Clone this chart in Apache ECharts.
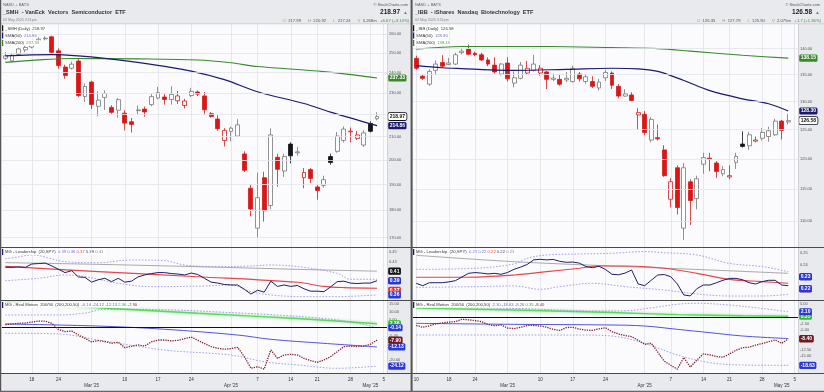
<!DOCTYPE html>
<html><head><meta charset="utf-8">
<script src="https://cdn.jsdelivr.net/npm/echarts@6/dist/echarts.min.js"></script>
<style>html,body{margin:0;padding:0;background:#e8eaed}#c{width:824px;height:392px}</style>
</head><body><div id="c"></div>
<script>
// ================= DATA =================
const tradingDays = ['Feb 10','Feb 11','Feb 12','Feb 13','Feb 14','Feb 18','Feb 19','Feb 20','Feb 21','Feb 24','Feb 25','Feb 26','Feb 27','Feb 28',
'Mar 3','Mar 4','Mar 5','Mar 6','Mar 7','Mar 10','Mar 11','Mar 12','Mar 13','Mar 14','Mar 17','Mar 18','Mar 19','Mar 20','Mar 21','Mar 24','Mar 25','Mar 26','Mar 27','Mar 28','Mar 31',
'Apr 1','Apr 2','Apr 3','Apr 4','Apr 7','Apr 8','Apr 9','Apr 10','Apr 11','Apr 14','Apr 15','Apr 16','Apr 17','Apr 21','Apr 22','Apr 23','Apr 24','Apr 25','Apr 28','Apr 29','Apr 30',
'May 1','May 2','May 5'];
const smhCategories = tradingDays.slice(1);
const ibbCategories = tradingDays;
const weekTickLabels = [['Feb 10','10'],['Feb 18','18'],['Feb 24','24'],['Mar 3',"Mar '25"],['Mar 10','10'],['Mar 17','17'],['Mar 24','24'],['Apr 1',"Apr '25"],['Apr 7','7'],['Apr 14','14'],['Apr 21','21'],['Apr 28','28'],['May 1',"May '25"],['May 5','5']];
const monthTickDays = ['Mar 3','Apr 1','May 1'];

// candles: [open, close, low, high]
const smhCandles = [
[247.3,248.6,246.5,250.5],[246.0,248.9,245.2,249.8],[249.3,252.2,248.5,252.8],[251.7,253.0,250.5,254.3],[253.2,255.6,252.5,256.5],
[256.8,257.4,256.0,258.5],[257.6,257.9,256.8,259.0],[258.7,250.4,249.9,259.2],[251.2,243.6,242.0,252.5],[242.8,238.6,237.0,244.0],
[242.2,244.3,241.6,245.6],[245.9,228.8,228.0,247.0],[228.3,233.2,225.7,234.6],[235.3,224.5,222.4,236.0],[223.7,226.6,219.1,230.8],
[227.9,229.8,222.0,231.3],[223.2,220.9,220.2,224.2],[221.9,226.8,218.4,227.6],[220.5,216.0,212.7,221.9],[216.6,215.4,211.8,218.3],
[221.7,222.0,219.9,224.0],[222.4,221.1,218.9,223.6],[224.5,228.3,223.8,229.5],[227.6,230.2,227.0,233.0],[228.1,226.9,224.5,229.5],
[226.9,229.3,224.5,233.3],[226.3,228.6,224.8,231.0],[224.1,226.2,222.7,227.2],[228.8,230.8,228.0,232.5],[230.5,229.5,228.5,231.2],
[228.6,222.1,219.8,230.5],[220.3,219.0,218.5,221.0],[217.8,213.5,212.6,219.5],[208.3,212.7,205.7,213.7],[212.3,213.7,207.9,214.4],
[210.2,215.2,209.8,217.8],[202.5,195.7,195.0,203.6],[188.5,180.5,177.7,190.0],[173.4,184.8,169.8,194.7],[192.7,179.8,175.8,195.1],
[181.8,210.7,180.4,213.6],[201.1,196.1,189.1,202.5],[195.4,201.4,193.0,202.6],[206.7,201.7,198.5,207.5],[203.0,203.4,201.7,205.5],
[192.7,194.8,188.5,196.6],[196.0,192.4,190.5,196.6],[189.0,187.6,184.0,189.8],[189.6,191.9,188.7,193.5],[201.4,198.9,198.0,202.6],
[203.6,210.2,203.0,212.0],[208.3,213.3,207.4,214.5],[212.1,212.4,207.5,214.0],[209.2,210.7,208.5,212.4],[206.3,211.6,205.5,212.8],
[215.8,212.3,211.8,216.8],[217.99,218.97,217.24,220.92]];
const ibbCandles = [
[138.1,136.2,135.9,138.6],[134.7,134.3,134.0,135.0],[133.2,135.6,132.9,136.0],[135.8,137.0,135.0,137.7],[137.3,136.6,136.3,138.7],
[136.9,137.2,136.8,138.2],[137.0,138.8,136.8,139.2],[139.2,139.5,138.9,140.0],[139.9,138.9,138.7,140.8],[139.1,138.8,138.5,139.4],
[138.8,137.8,137.6,139.2],[137.8,137.0,136.6,138.3],[136.8,135.5,135.2,138.3],[135.1,137.0,134.8,137.2],[137.2,134.2,133.7,138.3],
[133.4,134.4,132.6,135.6],[134.3,136.8,134.1,137.4],[135.3,136.2,135.0,137.6],[135.8,137.0,135.6,138.8],[135.3,136.2,134.8,136.8],
[135.5,134.1,132.3,135.7],[134.1,134.35,133.8,135.2],[134.1,133.2,132.9,135.0],[134.0,134.3,133.6,135.5],[133.7,136.2,133.5,136.7],
[135.1,134.2,133.7,135.5],[133.7,134.6,133.3,135.0],[133.7,132.8,132.5,134.7],[132.5,133.6,132.0,134.2],[134.4,135.4,133.8,135.9],
[135.3,133.0,132.3,135.6],[132.8,131.0,130.6,133.2],[131.0,131.4,130.9,132.3],[131.2,130.2,129.9,131.7],[127.6,128.0,125.0,128.8],
[127.7,124.5,124.0,128.3],[123.2,126.8,122.8,127.2],[123.6,123.4,123.1,125.9],[121.5,117.2,117.0,122.3],[113.4,116.2,112.1,116.8],
[118.5,112.1,111.0,118.9],[108.9,118.5,107.1,119.3],[116.2,113.2,109.4,116.6],[113.5,116.7,111.8,117.2],[119.1,120.2,117.5,121.0],
[120.1,119.9,117.9,121.0],[119.3,117.9,116.8,119.6],[117.5,118.2,117.1,118.8],[117.0,117.2,116.6,118.9],[119.4,120.4,118.3,121.0],
[122.5,122.1,121.9,124.7],[122.2,124.1,121.5,124.6],[123.0,123.2,122.8,123.8],[123.5,124.5,123.1,125.3],[123.8,124.8,122.9,125.5],
[124.1,126.5,123.9,126.9],[126.5,124.88,123.3,126.7],[126.35,126.58,125.90,127.78]];

// moving averages read at points: [dayIndex, value]
const smhSma50 = [[0,248.6],[7,249.2],[11,248.6],[15,247.3],[22,244.2],[28,240.8],[33,236.5],[38,230.6],[45,225.0],[49,221.0],[56,214.86]];
const smhSma200 = [[0,245.2],[5,246.5],[10,247.2],[20,247.0],[29,246.4],[34,245.0],[38,243.1],[48,240.5],[56,237.33]];
const ibbSma50 = [[0,136.7],[4,136.3],[15,135.8],[23,136.0],[30,136.2],[34,136.1],[37,135.6],[41,133.9],[45,132.0],[50,130.5],[54,129.6],[57,128.30]];
const ibbSma200 = [[0,139.9],[7,140.4],[20,140.4],[30,140.2],[37,140.0],[42,139.5],[50,138.7],[57,138.15]];

// MG Leadership (20,SPY)
const smhLeadMain = [0.418,0.418,0.419,0.418,0.425,0.426,0.427,0.421,0.414,0.407,0.411,0.398,0.397,0.387,0.392,0.395,0.388,0.395,0.387,0.389,
0.398,0.402,0.405,0.407,0.407,0.405,0.404,0.402,0.406,0.403,0.395,0.387,0.385,0.382,0.381,0.381,0.372,0.362,0.370,0.366,
0.389,0.378,0.381,0.378,0.380,0.373,0.368,0.368,0.367,0.377,0.388,0.389,0.385,0.384,0.385,0.385,0.390];
const smhLeadUpper = [[0,0.436],[2,0.440],[4,0.444],[9,0.430],[14,0.4278],[19,0.4334],[24,0.432],[27,0.4229],[32,0.4194],[37,0.4208],[40,0.4229],[45,0.418],[50,0.4054],[52,0.3929],[56,0.3929]];
const smhLeadLower = [[0,0.390],[5,0.395],[9,0.402],[12,0.3984],[17,0.3845],[22,0.3775],[30,0.3789],[34,0.381],[37,0.367],[40,0.360],[45,0.3565],[50,0.3565],[56,0.3602]];
const smhLeadRed = [[0,0.420],[14,0.409],[29,0.3984],[44,0.3866],[48,0.378],[51,0.3755],[56,0.3742]];
const smhLeadGray = [[0,0.4278],[14,0.4243],[33,0.418],[44,0.4138],[56,0.410]];
const ibbLeadMain = [0.2245,0.2225,0.2250,0.2250,0.2250,0.2257,0.2267,0.2298,0.2328,0.2334,0.2330,0.2323,0.2328,0.2320,0.2335,0.2362,0.2380,0.2402,0.2440,0.2445,
0.2440,0.2444,0.2428,0.2420,0.2422,0.2413,0.2385,0.2375,0.2387,0.2360,0.2320,0.2316,0.2330,0.2356,0.2240,0.2225,0.2270,0.2314,0.2318,0.2300,
0.2240,0.2148,0.2140,0.2200,0.2231,0.2231,0.2250,0.2270,0.2286,0.2286,0.2275,0.2250,0.2239,0.2259,0.2270,0.2270,0.2231,0.2225];
const ibbLeadUpper = [[0,0.2361],[9,0.237],[15,0.2406],[17,0.2453],[20,0.2481],[25,0.2489],[30,0.2495],[35,0.2509],[38,0.250],[43,0.2481],[48,0.2411],[53,0.2384],[57,0.2342]];
const ibbLeadLower = [[0,0.2211],[9,0.2217],[15,0.2223],[19,0.2195],[22,0.2217],[27,0.2245],[32,0.2217],[38,0.2189],[43,0.2156],[48,0.2139],[53,0.2139],[57,0.2153]];
const ibbLeadRed = [[0,0.2295],[7,0.2295],[15,0.2314],[20,0.2342],[25,0.237],[28,0.2389],[32,0.2389],[38,0.237],[43,0.2328],[48,0.2278],[53,0.2259],[57,0.2245]];
const ibbLeadGray = [[0,0.2478],[15,0.2425],[30,0.2389],[45,0.2356],[57,0.2328]];

// MG Real Motion 200/50
const smhRmMain = [1.8,2.2,2.6,2.8,3.4,4.0,4.0,2.6,-1.2,-2.6,-2.2,-4.6,-6.8,-9.0,-8.2,-8.8,-9.9,-9.2,-12.6,-11.8,
-10.9,-11.6,-9.0,-7.8,-7.8,-8.4,-8.0,-7.0,-6.0,-8.0,-10.0,-12.0,-13.0,-13.6,-13.2,-12.4,-18.2,-25.5,-24.5,-26.0,
-14.0,-19.3,-17.2,-16.8,-17.2,-19.3,-20.7,-21.8,-20.3,-18.2,-15.1,-12.0,-11.6,-12.0,-11.6,-10.5,-7.9];
const smhRmUpper = [[0,7.8],[8,7.8],[12,9.0],[15,11.4],[25,11.0],[33,9.5],[40,8.0],[47,6.0],[52,3.5],[56,-0.14]];
const smhRmLower = [[0,-3.6],[8,-4.0],[14,-7.8],[24,-14.1],[34,-17.2],[39,-21.4],[44,-23.4],[50,-25.5],[56,-24.12]];
const smhRmBlue = [[0,2.2],[14,0.9],[24,-1.1],[35,-4.7],[40,-7.4],[48,-9.9],[56,-12.13]];
const smhRmGreen = [[0,15.6],[14,12.3],[29,8.9],[44,5.6],[56,2.36]];
const ibbRmMain = [-3.2,-3.9,-3.3,-2.6,-2.2,-1.9,-1.7,-0.8,-1.0,-1.3,-1.7,-2.8,-3.3,-3.0,-4.2,-4.4,-3.9,-3.2,-3.2,-3.4,
-3.9,-4.7,-5.1,-4.0,-3.9,-4.6,-5.0,-5.1,-4.5,-4.1,-5.6,-6.5,-7.1,-7.5,-8.9,-10.5,-10.0,-13.5,-17.0,-18.6,
-20.1,-15.6,-19.3,-16.6,-14.2,-14.6,-15.2,-15.5,-14.2,-12.8,-11.8,-11.6,-10.8,-10.2,-9.5,-8.8,-10.1,-8.4];
const ibbRmUpper = [[0,4.0],[15,3.4],[28,2.4],[32,2.5],[36,3.6],[40,5.0],[43,5.4],[48,4.7],[53,3.4],[57,2.10]];
const ibbRmLower = [[0,-6.9],[15,-6.9],[25,-6.9],[30,-7.3],[35,-10.1],[40,-14.6],[45,-17.6],[50,-18.5],[57,-18.63]];
const ibbRmBlue = [[0,-2.37],[15,-2.76],[30,-3.02],[35,-3.4],[40,-4.69],[45,-5.98],[50,-7.27],[57,-8.26]];
const ibbRmGreen = [[0,3.5],[15,2.8],[30,1.8],[40,1.0],[50,0.55],[57,0.35]];

// axis tick labels
const smhPriceTicks = [260,250,240,230,220,210,200,190,180,170];
const ibbPriceTicks = [140,135,130,125,120,115,110];
const smhLeadTicks = [0.45,0.43];
const ibbLeadTicks = [0.2475,0.2425];
const smhRmTicks = [15,10,5,-5,-20];
const ibbRmTicks = [5,-2.5,-5,-12.5,-15];

// header info
const smhInfo = {ticker:'_SMH', name:'_SMH  - VanEck  Vectors  Semiconductor  ETF', volume:'5.268m'};
const ibbInfo = {ticker:'_IBB', name:'_IBB  - iShares  Nasdaq  Biotechnology  ETF', volume:'2.075m'};
const stampText = '02 May 2025 3:51pm';

// ================= CHART =================
const FONT = '"Liberation Sans", Arial, sans-serif';
const tickMap = new Map(weekTickLabels);
const monthSet = new Set(monthTickDays);
function lastV(a) { const v = a[a.length - 1]; return Array.isArray(v) ? v[v.length - 1] : v; }
const f2 = v => v.toFixed(2);
const HIDDEN_LINE = {color:'rgba(0,0,0,0)', width:0.01, type:'solid'};

const panels = [
  {info: smhInfo, cats: smhCategories, candles: smhCandles, sma50: smhSma50, sma200: smhSma200,
   price: {min:166.7, max:265.7, ticks: smhPriceTicks},
   lead: {main: smhLeadMain, upper: smhLeadUpper, lower: smhLeadLower, red: smhLeadRed, gray: smhLeadGray, min:0.3495, max:0.4586, ticks: smhLeadTicks},
   rm: {main: smhRmMain, upper: smhRmUpper, lower: smhRmLower, blue: smhRmBlue, green: smhRmGreen, min:-28.44, max:16.56, ticks: smhRmTicks},
   x0: 0, left: 2, width: 385},
  {info: ibbInfo, cats: ibbCategories, candles: ibbCandles, sma50: ibbSma50, sma200: ibbSma200,
   price: {min:106.07, max:144.9, ticks: ibbPriceTicks},
   lead: {main: ibbLeadMain, upper: ibbLeadUpper, lower: ibbLeadLower, red: ibbLeadRed, gray: ibbLeadGray, min:0.2106, max:0.2539, ticks: ibbLeadTicks},
   rm: {main: ibbRmMain, upper: ibbRmUpper, lower: ibbRmLower, blue: ibbRmBlue, green: ibbRmGreen, min:-21.59, max:6.27, ticks: ibbRmTicks},
   x0: 412, left: 413, width: 385}
];
const ROWS = [{top:24, height:223}, {top:248, height:52}, {top:301, height:72}];

const C = {red:'#e01414', redEdge:'#d21c1c', gray:'#777777', black:'#151515', navy:'#1a1a72', green:'#3a8a2c',
  band:'#8a8ae6', tagBlue:'#2b37d6', leadRed:'#e2474b', leadGray:'#a9a9a9', rmBlue:'#5454d8', rmGreen:'#5fd65f', rmMain:'#7d1f2c'};

function candleItems(candles) {
  return candles.map((d, i) => {
    const o = d[0], c = d[1];
    const prev = i > 0 ? candles[i - 1][1] : o;
    const hollow = c >= o, down = c < prev;
    const edge = down ? C.redEdge : (hollow ? C.gray : C.black);
    const fill = hollow ? '#ffffff' : (down ? C.red : C.black);
    return {value: d, itemStyle: {color: fill, color0: fill, borderColor: edge, borderColor0: edge, borderWidth: 0.8}};
  });
}
function tickItem(v, txt, showLine) {
  return {yAxis: v, lineStyle: showLine ? {color:'#e2e5ea', width:0.8, type:'solid'} : HIDDEN_LINE,
    label: {show:true, position:'end', distance:2, formatter: txt, color:'#555', fontSize:4, fontFamily: FONT}};
}
function tagItem(v, bg, fg, border) {
  return {yAxis: v, lineStyle: HIDDEN_LINE,
    label: {show:true, position:'end', distance:1.2, formatter: f2(v), color: fg, backgroundColor: bg,
      borderColor: border || bg, borderWidth: border ? 0.8 : 0, borderRadius: 1.5, padding:[1,1.5,0.6,1.5],
      fontSize:5, fontWeight:'bold', fontFamily: FONT, lineHeight:5.5}};
}
function markSeries(gi, items, z) {
  return {type:'line', xAxisIndex: gi, yAxisIndex: gi, data: [], silent: true, z: z,
    markLine: {symbol:['none','none'], silent:true, animation:false, emphasis:{disabled:true}, data: items}};
}
function lineS(gi, data, style, smooth, z) {
  return {type:'line', xAxisIndex: gi, yAxisIndex: gi, data: data, symbol:'none', showSymbol:false, silent:true,
    smooth: smooth ? 0.35 : false, lineStyle: style, z: z || 4, emphasis:{disabled:true}};
}

const option = {animation:false, backgroundColor:'#e8eaed', grid:[], xAxis:[], yAxis:[], series:[], graphic:[]};

panels.forEach(P => {
  const base = option.grid.length;
  ROWS.forEach((r, j) => {
    option.grid.push({left: P.left, top: r.top, width: P.width, height: r.height, show: true, backgroundColor:'#fbfbfd', borderWidth: 0});
    option.xAxis.push({type:'category', gridIndex: base + j, data: P.cats, boundaryGap: true,
      axisLine:{show:false}, axisTick:{show:false},
      splitLine:{show:true, interval:(i, v) => tickMap.has(v), alignWithLabel:true, lineStyle:{color:'#dfe2e7', width:0.8}},
      axisLabel: j === 2 ? {show:true, interval:(i, v) => tickMap.has(v),
        formatter: v => (monthSet.has(v) ? '\n' : '') + (tickMap.get(v) || ''),
        fontSize:4.5, color:'#333', margin:3.5, lineHeight:6, fontFamily: FONT} : {show:false}});
    const yb = {gridIndex: base + j, axisLine:{show:false}, axisTick:{show:false}, axisLabel:{show:false}, splitLine:{show:false}};
    if (j === 0) option.yAxis.push(Object.assign({type:'log', logBase:10, min:P.price.min, max:P.price.max}, yb));
    else if (j === 1) option.yAxis.push(Object.assign({type:'value', min:P.lead.min, max:P.lead.max}, yb));
    else option.yAxis.push(Object.assign({type:'value', min:P.rm.min, max:P.rm.max}, yb));
  });
  const g0 = base, g1 = base + 1, g2 = base + 2;
  const lastBar = P.candles[P.candles.length - 1];
  const close = lastBar[1];
  const prevClose = P.candles[P.candles.length - 2][1];

  // price grid
  option.series.push(markSeries(g0, P.price.ticks.map(v => tickItem(v, f2(v), true)), 1));
  option.series.push({type:'candlestick', xAxisIndex:g0, yAxisIndex:g0, data: candleItems(P.candles), barWidth:4.4, z:3, silent:true});
  option.series.push(lineS(g0, P.sma200, {color:C.green, width:1.1}, true));
  option.series.push(lineS(g0, P.sma50, {color:C.navy, width:1.2}, true));
  option.series.push(markSeries(g0, [tagItem(lastV(P.sma200), C.green, '#fff'), tagItem(lastV(P.sma50), C.navy, '#fff'), tagItem(close, '#ffffff', '#111', '#111')], 8));

  // leadership grid
  const L = P.lead;
  option.series.push(markSeries(g1, L.ticks.map(v => tickItem(v, f2(v), false)), 1));
  option.series.push(lineS(g1, L.gray, {color:C.leadGray, width:1}, true));
  option.series.push(lineS(g1, L.red, {color:C.leadRed, width:1.1}, true));
  option.series.push(lineS(g1, L.upper, {color:C.band, width:0.8, type:[1.6,1.6]}, true));
  option.series.push(lineS(g1, L.lower, {color:C.band, width:0.8, type:[1.6,1.6]}, true));
  option.series.push(lineS(g1, L.main, {color:'#1d1d6b', width:1}, false, 5));
  option.series.push(markSeries(g1, [tagItem(lastV(L.main), C.navy, '#fff'), tagItem(lastV(L.gray), '#111', '#fff'),
    tagItem(lastV(L.upper), C.tagBlue, '#fff'), tagItem(lastV(L.red), '#e33030', '#fff'), tagItem(lastV(L.lower), C.tagBlue, '#fff')], 8));

  // real motion grid
  const R = P.rm;
  const rmTicks = R.ticks.map(v => tickItem(v, f2(v), false));
  rmTicks.push({yAxis:0, lineStyle:{color:'#111', width:1, type:'solid'}, label:{show:false}});
  option.series.push(markSeries(g2, rmTicks, 1));
  option.series.push(lineS(g2, R.green, {color:C.rmGreen, width:1.4, shadowBlur:3, shadowColor:'rgba(80,220,80,0.7)'}, true));
  option.series.push(lineS(g2, R.upper, {color:C.band, width:0.8, type:[1.6,1.6]}, true));
  option.series.push(lineS(g2, R.lower, {color:C.band, width:0.8, type:[1.6,1.6]}, true));
  option.series.push(lineS(g2, R.blue, {color:C.rmBlue, width:1}, true));
  option.series.push(lineS(g2, R.main, {color:C.rmMain, width:1.3, type:[1.3,1.1]}, false, 5));
  option.series.push(markSeries(g2, [tagItem(lastV(R.blue), C.tagBlue, '#fff'), tagItem(lastV(R.main), '#6d1a25', '#fff'),
    tagItem(lastV(R.lower), C.tagBlue, '#fff'), tagItem(lastV(R.green), '#33b833', '#fff'), tagItem(lastV(R.upper), C.tagBlue, '#fff')], 8));

  // ---- graphics: header, legends ----
  const X = P.x0;
  const txt = (o) => ({type:'text', z:20, silent:true, style: Object.assign({fontFamily: FONT, verticalAlign:'middle', textVerticalAlign:'middle'}, o)});
  const change = close - prevClose;
  const chg = (change >= 0 ? '+' : '') + parseFloat(change.toFixed(2)) + ' (' + (change >= 0 ? '+' : '') + (change / prevClose * 100).toFixed(2) + '%)';
  option.graphic.push(
    txt({text:'NASD + BATS', x:X + 3, y:5, fontSize:4, fill:'#666'}),
    txt({text:P.info.name, x:X + 3, y:12.5, fontSize:5.6, fontWeight:'bold', fill:'#333'}),
    txt({text:stampText, x:X + 3, y:19.5, fontSize:3.6, fill:'#888'}),
    txt({text:'\u00a9 StockCharts.com', x:X + 408, y:5, fontSize:4, fill:'#555', align:'right', textAlign:'right'}),
    txt({text:f2(close), x:X + 400, y:12.5, fontSize:6.5, fontWeight:'bold', fill:'#222', align:'right', textAlign:'right'}),
    txt({text:'\u25B2', x:X + 405.5, y:12.5, fontSize:4.5, fill:'#2f9e2f', align:'center', textAlign:'center'}),
    txt({text:'{k|O}  {v|' + f2(lastBar[0]) + '}      {k|H}  {v|' + f2(lastBar[3]) + '}      {k|L}  {v|' + f2(lastBar[2]) + '}      {k|V}  {v|' + P.info.volume + '}   {g|' + chg + '}',
      x:X + 409, y:20.5, fontSize:4.2, fill:'#555', align:'right', textAlign:'right',
      rich:{k:{fill:'#999', fontSize:4.2, fontFamily:FONT}, v:{fill:'#555', fontSize:4.2, fontFamily:FONT}, g:{fill:'#3a8f3a', fontSize:4.2, fontFamily:FONT}}})
  );
  const gl = P.left;
  const legRow = (y, sw, text, rich) => {
    option.graphic.push({type:'rect', z:20, silent:true, shape:{x:gl, y:y - 3, width:1.4, height:6}, style:{fill:sw}});
    option.graphic.push(txt({text:text, x:gl + 1.6, y:y, fontSize:4.2, fill:'#333', backgroundColor:'#ffffff', padding:[0.9,1.5,0.6,1.5], rich:rich}));
  };
  const rs = (c) => ({fill:c, fontSize:4.2, fontFamily:FONT});
  legRow(28.3, '#111', '{n|' + P.info.ticker + ' (Daily)}  {v|' + f2(close) + '}', {n:rs('#333'), v:rs('#333')});
  legRow(35.6, C.navy, '{n|SMA(50)}  {v|' + f2(lastV(P.sma50)) + '}', {n:rs('#333'), v:rs('#6a6aa8')});
  legRow(42.9, C.green, '{n|SMA(200)}  {v|' + f2(lastV(P.sma200)) + '}', {n:rs('#333'), v:rs('#5c9a4c')});
  legRow(252, C.navy, '{n|MG - Leadership}  {n|(20,SPY)}  {b|' + f2(lastV(L.upper)) + '} {b|' + f2(lastV(L.lower)) + '} {r|' + f2(lastV(L.red)) + '} {m|' + f2(lastV(L.main)) + '} {g|' + f2(lastV(L.gray)) + '}',
    {n:rs('#333'), b:rs('#7070d8'), r:rs('#e04848'), m:rs('#44447a'), g:rs('#888')});
  legRow(305, C.navy, '{n|MG - Real Motion  200/50}  {n|(200,200,50)}  {b|' + f2(lastV(R.upper)) + '} {b|' + f2(lastV(R.lower)) + '} {b|' + f2(lastV(R.blue)) + '} {gr|' + f2(lastV(R.green)) + '} {m|' + f2(lastV(R.main)) + '}',
    {n:rs('#333'), b:rs('#6060d0'), gr:rs('#3aaa3a'), m:rs('#7d1f2c')});
  option.graphic.push({type:'rect', z:19, silent:true, shape:{x:P.left + P.width, y:24, width:0.8, height:349}, style:{fill:'#c9ccd1'}});
  option.graphic.push({type:'rect', z:19, silent:true, shape:{x:X, y:23.5, width:412, height:0.7}, style:{fill:'#c4c7cc'}});
});

// panel separators
[247, 300, 373].forEach(y => option.graphic.push({type:'rect', z:21, silent:true, shape:{x:0, y:y, width:824, height:1.1}, style:{fill:'#4a4a4a'}}));
option.graphic.push({type:'rect', z:21, silent:true, shape:{x:410.6, y:0, width:2, height:392}, style:{fill:'#555'}});
option.graphic.push({type:'rect', z:21, silent:true, shape:{x:0, y:0, width:1.2, height:392}, style:{fill:'#555'}});
option.graphic.push({type:'rect', z:21, silent:true, shape:{x:0, y:390.8, width:824, height:1.2}, style:{fill:'#666'}});

const chart = echarts.init(document.getElementById('c'), null, {renderer:'canvas', width:824, height:392});
chart.setOption(option);
</script>
</body></html>
